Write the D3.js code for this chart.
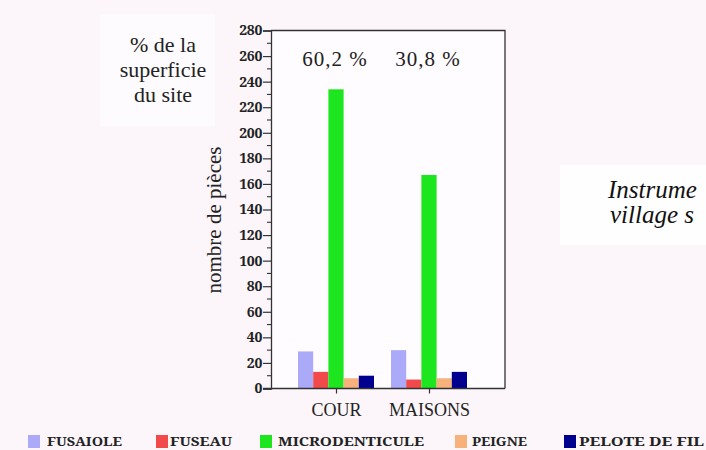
<!DOCTYPE html>
<html><head><meta charset="utf-8">
<script src="https://cdn.jsdelivr.net/npm/d3@7"></script>
<style>html,body{margin:0;padding:0;background:#fcf6fb;}svg{display:block;}</style>
</head><body>
<svg id="chart" width="706" height="450"></svg>
<script>
const categories = ["COUR", "MAISONS"];
const seriesNames = ["FUSAIOLE", "FUSEAU", "MICRODENTICULE", "PEIGNE", "PELOTE DE FIL"];
const fusaiole = [29, 30];
const fuseau = [13, 7];
const microdenticule = [234, 167];
const peigne = [8, 8];
const peloteDeFil = [10, 13];
const percentLabels = ["60,2 %", "30,8 %"];
const yTicks = [0, 20, 40, 60, 80, 100, 120, 140, 160, 180, 200, 220, 240, 260, 280];
const seriesColors = ["#aaaaf8", "#f24a4a", "#1ee61e", "#f7b27c", "#000090"];
const seriesValues = [fusaiole, fuseau, microdenticule, peigne, peloteDeFil];

const SERIF = '"Liberation Serif", "Times New Roman", serif';
const BSERIF = '"Noto Serif", "Liberation Serif", serif';

const svg = d3.select("#chart");
const L = 271, R = 505, T = 30.5, B = 388.5;

svg.append("rect").attr("x",0).attr("y",0).attr("width",706).attr("height",450).attr("fill","#fcf6fb");
svg.append("rect").attr("x",100).attr("y",14).attr("width",115).attr("height",112).attr("fill","#fefbfe");
svg.append("rect").attr("x",L).attr("y",T).attr("width",R-L).attr("height",B-T).attr("fill","#fffcff");
svg.append("rect").attr("x",560).attr("y",165).attr("width",146).attr("height",80).attr("fill","#fffeff");

const y = d3.scaleLinear().domain([0, 280]).range([B, T]);
const x0 = d3.scalePoint().domain(categories).range([336, 429]);
const x1 = d3.scaleBand().domain(seriesNames).range([-38, 38]).padding(0);

const data = [];
categories.forEach((c, ci) => seriesNames.forEach((s, si) => data.push({c, s, v: seriesValues[si][ci], color: seriesColors[si]})));
svg.append("g").selectAll("rect").data(data).join("rect")
  .attr("x", d => x0(d.c) + x1(d.s))
  .attr("width", x1.bandwidth())
  .attr("y", d => y(d.v))
  .attr("height", d => y(0) - y(d.v))
  .attr("fill", d => d.color);

svg.append("path").attr("d", `M${L},${T}H${R}V${B}`).attr("fill","none").attr("stroke","#333").attr("stroke-width",1.3);

const yAxis = d3.axisLeft(y).tickValues(yTicks).tickSize(8).tickPadding(1).tickFormat(d3.format("d"));
const gy = svg.append("g").attr("transform", `translate(${L},0)`).call(yAxis);
gy.select(".domain").attr("stroke","#333").attr("stroke-width",1.3);
gy.selectAll(".tick line").attr("stroke","#333").attr("stroke-width",1.2);
gy.selectAll(".tick text").style("font-family", BSERIF).style("font-weight","bold").style("font-size","14px")
  .style("letter-spacing","-0.3px").attr("fill","#222");
const minor = d3.range(10, 280, 20);
svg.append("g").selectAll("line").data(minor).join("line")
  .attr("x1", L-4).attr("x2", L).attr("y1", d => y(d)).attr("y2", d => y(d))
  .attr("stroke","#333").attr("stroke-width",1.1);

const xAxis = d3.axisBottom(x0).tickSize(5).tickPadding(5);
const gx = svg.append("g").attr("transform", `translate(0,${B})`).call(xAxis);
gx.select(".domain").attr("d", `M${L-8},0H${R}`).attr("stroke","#333").attr("stroke-width",1.3);
gx.selectAll(".tick line").attr("stroke","#333").attr("stroke-width",1.2);
gx.selectAll(".tick text").style("font-family", SERIF).style("font-size","18px").attr("fill","#222").attr("dy","0.95em");

svg.append("g").selectAll("text").data(categories).join("text")
  .attr("x", d => x0(d) - 1).attr("y", 66)
  .attr("text-anchor","middle").style("font-family", SERIF).style("font-size","21px")
  .style("letter-spacing","1px").attr("fill","#222")
  .text((d, i) => percentLabels[i]);

svg.append("text").attr("transform","translate(221,220) rotate(-90)")
  .attr("text-anchor","middle").style("font-family", SERIF).style("font-size","21px").attr("fill","#222")
  .text("nombre de pièces");

const note = ["% de la", "superficie", "du site"];
svg.append("g").selectAll("text").data(note).join("text")
  .attr("x", 163).attr("y", (d, i) => 52 + i * 25)
  .attr("text-anchor","middle").style("font-family", SERIF).style("font-size","22px").attr("fill","#222")
  .text(d => d);

const side = ["Instrume", "village s"];
svg.append("g").selectAll("text").data(side).join("text")
  .attr("x", (d, i) => 608 + i * 2).attr("y", (d, i) => 198 + i * 25)
  .style("font-family", SERIF).style("font-style","italic").style("font-size","25px").attr("fill","#111")
  .text(d => d);

const legendX = [28, 156, 260, 455, 564];
const legendTextX = [47, 170, 278, 472, 579];
const legendLen = [75, 62, 146, 55, 125];
const lg = svg.append("g").selectAll("g").data(seriesNames).join("g");
lg.append("rect").attr("x", (d, i) => legendX[i]).attr("y", 435).attr("width", 12).attr("height", 13)
  .attr("fill", (d, i) => seriesColors[i]);
lg.append("text").attr("x", (d, i) => legendTextX[i]).attr("y", 445.5)
  .style("font-family", BSERIF).style("font-weight","bold").style("font-size","13px").attr("fill","#222")
  .attr("textLength", (d, i) => legendLen[i]).attr("lengthAdjust","spacingAndGlyphs")
  .text(d => d);
</script>
</body></html>
